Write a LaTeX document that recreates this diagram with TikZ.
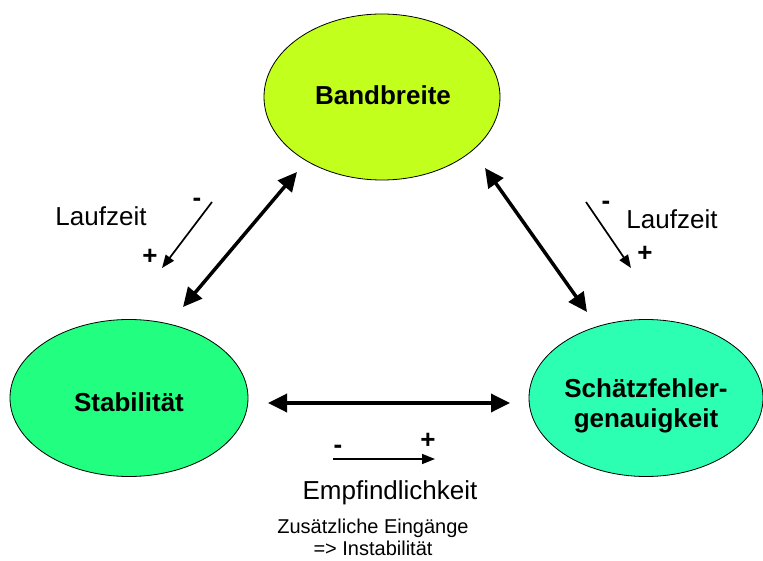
\documentclass[tikz,border=0pt]{standalone}
\usepackage{fontspec}
\setmainfont{Liberation Sans}
\usetikzlibrary{arrows.meta,shapes.geometric}
\definecolor{cband}{HTML}{C2FF1C}
\definecolor{cstab}{HTML}{22FF80}
\definecolor{cschaetz}{HTML}{2CFFB2}
\tikzset{
  ell/.style={draw=black,line width=0.8pt,ellipse,inner sep=0pt},
  etext/.style={font=\fontsize{26}{30}\selectfont\bfseries,align=center,inner sep=0pt},
  big/.style={line width=3.5pt,{Triangle[length=19pt,width=18pt]}-{Triangle[length=19pt,width=18pt]}},
  small/.style={line width=1.7pt,-{Triangle[length=13pt,width=10pt]}},
  lbl/.style={font=\fontsize{26}{30}\selectfont,inner sep=0pt},
  sgn/.style={font=\fontsize{26}{30}\selectfont\bfseries,inner sep=0pt},
  note/.style={font=\fontsize{20}{22}\selectfont,inner sep=0pt,align=center}
}
\begin{document}
\begin{tikzpicture}[x=1pt,y=-1pt]
\useasboundingbox (0,0) rectangle (763,561);
\node[ell,fill=cband,minimum width=236pt,minimum height=166pt] (band) at (382,97) {};
\node[ell,fill=cstab,minimum width=238pt,minimum height=157pt] (stab) at (129,398) {};
\node[ell,fill=cschaetz,minimum width=234pt,minimum height=157pt] (schaetz) at (646,398) {};
\node[etext] (bandt) at (383,95) {Bandbreite};
\node[etext] (stabt) at (129,402) {Stabilität};
\node[etext] (schaetzt) at (646,406) {Schätzfehler-\\genauigkeit};
% big arrows
\coordinate (l1) at (297,172); \coordinate (l2) at (183,307);
\coordinate (r1) at (485,168); \coordinate (r2) at (587,312);
\coordinate (h1) at (268,403); \coordinate (h2) at (510,403);
\draw[big] (l2) -- (l1);
\draw[big] (r1) -- (r2);
\draw[big] (h1) -- (h2);
% small arrows
\coordinate (sl1) at (212,202); \coordinate (sl2) at (162,268);
\coordinate (sr1) at (586,202); \coordinate (sr2) at (631,268);
\coordinate (sh1) at (333,459); \coordinate (sh2) at (435,459);
\draw[small] (sl1) -- (sl2);
\draw[small] (sr1) -- (sr2);
\draw[small] (sh1) -- (sh2);
% labels
\node[lbl] (lzl) at (101,216) {Laufzeit};
\node[sgn] (ml) at (197,202) {-};
\node[sgn] (pl) at (150,257) {+};
\node[lbl] (lzr) at (672,219) {Laufzeit};
\node[sgn] (mr) at (606,205) {-};
\node[sgn] (pr) at (645,254) {+};
\node[sgn] (mh) at (338,449) {-};
\node[sgn] (ph) at (428,441) {+};
\node[lbl] (emp) at (390,493) {Empfindlichkeit};
\node[note] (zus) at (373,537) {Zusätzliche Eingänge\\=> Instabilität};
\end{tikzpicture}
\end{document}
